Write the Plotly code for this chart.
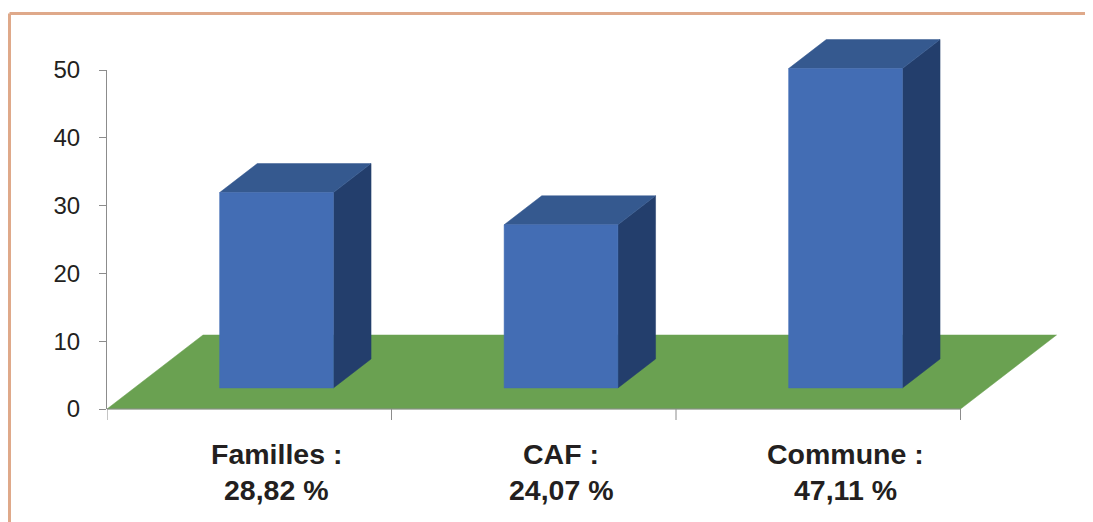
import plotly.graph_objects as go

# ---------------- data ----------------
categories = ["Familles", "CAF", "Commune"]
values = [28.82, 24.07, 47.11]
y_ticks = [0, 10, 20, 30, 40, 50]

# ---------------- geometry / style ----------------
OFF = 8                 # page body margin in the browser
W, H = 1093 - OFF, 522 - OFF
ML, MR, MT, MB = 107 - OFF, 10, 20 - OFF, 2
PX_PER_CAT = 284.5      # pixels per category slot
PX_PER_UNIT = 6.78      # pixels per value unit
Y0_PX = 409 - OFF       # pixel row of value 0 (figure coords)
plot_w = W - ML - MR
plot_h = H - MT - MB
x_min = -0.5
x_max = x_min + plot_w / PX_PER_CAT
y_max = (Y0_PX - MT) / PX_PER_UNIT
y_min = -(H - MB - Y0_PX) / PX_PER_UNIT

depth_dx = 96 / PX_PER_CAT      # floor depth (x component, category units)
depth_dy = 74 / PX_PER_UNIT     # floor depth (y component, value units)
f0, f1 = 0.284, 0.676           # bar depth span as fraction of the floor depth
half_w = 0.2                    # half bar width (category units)

C_FRONT = "#436DB4"
C_TOP = "#35598F"
C_SIDE = "#233E6C"
C_FLOOR = "#6AA151"
C_AXIS = "#8C8C8C"
C_TEXT = "#231F20"
C_FRAME = "#DFA98A"
FONT = "Liberation Sans"

fig = go.Figure()

def poly(xs, ys, color):
    fig.add_trace(go.Scatter(
        x=xs + [xs[0]], y=ys + [ys[0]], mode="lines", fill="toself",
        fillcolor=color, line=dict(color=color, width=0.5),
        hoverinfo="skip", showlegend=False))

n = len(categories)
left, right = -0.5, n - 0.5

# floor
poly([left, right, right + depth_dx, left + depth_dx],
     [0, 0, depth_dy, depth_dy], C_FLOOR)

# x axis line and category tick marks
fig.add_trace(go.Scatter(x=[left, right], y=[0, 0], mode="lines",
                         line=dict(color=C_AXIS, width=1),
                         hoverinfo="skip", showlegend=False))
tick_len = 11 / PX_PER_UNIT
for k in range(n + 1):
    xe = k - 0.5
    fig.add_trace(go.Scatter(x=[xe, xe], y=[0, -tick_len], mode="lines",
                             line=dict(color=C_AXIS, width=1),
                             hoverinfo="skip", showlegend=False))

# 3D bars
ax0, ay0 = f0 * depth_dx, f0 * depth_dy
ax1, ay1 = f1 * depth_dx, f1 * depth_dy
for i, v in enumerate(values):
    xl = i + ax0 - half_w
    xr = i + ax0 + half_w
    yb = ay0
    yt = ay0 + v
    ddx, ddy = ax1 - ax0, ay1 - ay0
    # side face
    poly([xr, xr + ddx, xr + ddx, xr], [yb, yb + ddy, yt + ddy, yt], C_SIDE)
    # top face
    poly([xl, xr, xr + ddx, xl + ddx], [yt, yt, yt + ddy, yt + ddy], C_TOP)
    # front face
    poly([xl, xr, xr, xl], [yb, yb, yt, yt], C_FRONT)

# dummy trace on value axis
fig.add_trace(go.Scatter(x=[None], y=[None], yaxis="y2", showlegend=False,
                         hoverinfo="skip"))

# category labels
row1 = -45 / PX_PER_UNIT
row2 = -81 / PX_PER_UNIT
annotations = []
for i, (c, v) in enumerate(zip(categories, values)):
    pct = f"{v:.2f}".replace(".", ",") + " %"
    for txt, yy in ((c + " :", row1), (pct, row2)):
        annotations.append(dict(
            x=i + ax0, y=yy, xref="x", yref="y", text="<b>" + txt + "</b>",
            showarrow=False, xanchor="center", yanchor="middle",
            font=dict(family=FONT, size=28.5, color=C_TEXT)))

def px_x(px):
    return (px - OFF - ML) / plot_w

def px_y(py):
    return (H - MB - (py - OFF)) / plot_h

d_lo = (H - MB - Y0_PX) / plot_h
d_hi = (H - MB - (Y0_PX - max(y_ticks) * PX_PER_UNIT)) / plot_h

shapes = [
    dict(type="line", xref="paper", yref="paper",
         x0=px_x(9.5), y0=px_y(13.5), x1=px_x(1093 + 20), y1=px_y(13.5),
         line=dict(color=C_FRAME, width=3)),
    dict(type="line", xref="paper", yref="paper",
         x0=px_x(9.5), y0=px_y(13.5), x1=px_x(9.5), y1=px_y(522 + 20),
         line=dict(color=C_FRAME, width=3)),
]

fig.update_layout(
    width=W, height=H,
    margin=dict(l=ML, r=MR, t=MT, b=MB, autoexpand=False),
    paper_bgcolor="white", plot_bgcolor="rgba(0,0,0,0)",
    showlegend=False,
    xaxis=dict(range=[x_min, x_max], visible=False, fixedrange=True),
    yaxis=dict(range=[y_min, y_max], visible=False, fixedrange=True),
    yaxis2=dict(domain=[d_lo, d_hi], range=[0, max(y_ticks)], anchor="x",
                side="left", showline=True, linecolor=C_AXIS, linewidth=1,
                ticks="outside", ticklen=7, tickcolor=C_AXIS, tickwidth=1,
                tickvals=y_ticks, showgrid=False, zeroline=False,
                tickfont=dict(family=FONT, size=24, color=C_TEXT),
                ticklabelstandoff=14, fixedrange=True),
    annotations=annotations,
    shapes=shapes,
)

fig.write_html("out.html")
